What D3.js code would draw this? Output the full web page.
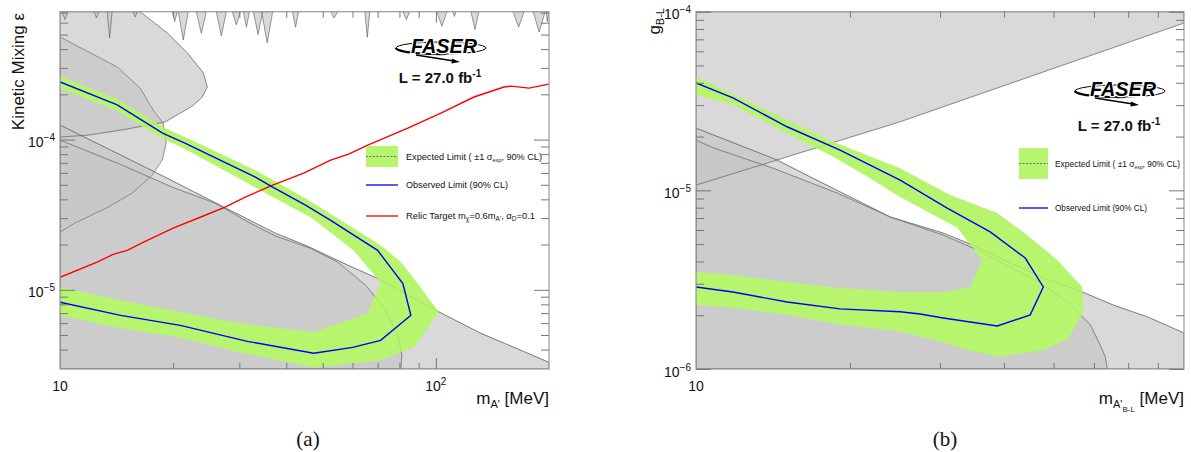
<!DOCTYPE html>
<html>
<head>
<meta charset="utf-8">
<script src="https://cdnjs.cloudflare.com/ajax/libs/d3/7.8.5/d3.min.js"></script>
<style>
  body { margin: 0; background: #fff; }
  text { font-family: "Liberation Sans", Arial, sans-serif; fill: #111; }
</style>
</head>
<body>
<svg width="1191" height="452"></svg>
<script>
// ---------- panel (a): kinetic mixing ----------
var xDomainA = [10, 200];
var yDomainA = [2.97e-6, 7.1e-4];
var xMinorA = [20, 30, 40, 50, 60, 70, 80, 90];
var xMajorA = [100];
var xLabelsA = [[10, "10", ""], [100, "10", "2"]];
var yMinorA = [4e-6, 5e-6, 6e-6, 7e-6, 8e-6, 9e-6, 2e-5, 3e-5, 4e-5, 5e-5, 6e-5, 7e-5, 8e-5, 9e-5, 2e-4, 3e-4, 4e-4, 5e-4, 6e-4, 7e-4];
var yLabelsA = [[1e-5, "\u22125"], [1e-4, "\u22124"]];

var obsA = [[10, 2.42e-4], [14.2, 1.70e-4], [18.8, 1.10e-4], [21.5, 9.48e-5], [33.1, 5.62e-5], [36.8, 4.82e-5], [45.0, 3.66e-5], [52.5, 2.90e-5], [70.0, 1.83e-5], [81.7, 1.10e-5], [85.8, 6.76e-6], [71.3, 4.61e-6], [60.1, 4.14e-6], [47.3, 3.78e-6], [31.5, 4.54e-6], [20.9, 5.80e-6], [14.5, 6.76e-6], [10, 8.26e-6]];
var expOuterA = [[10, 2.65e-4], [14.2, 1.86e-4], [18.8, 1.21e-4], [21.5, 1.04e-4], [33.1, 6.26e-5], [45.0, 4.07e-5], [60.4, 2.57e-5], [71.3, 1.98e-5], [80.7, 1.53e-5], [89.5, 1.10e-5], [101.9, 7.08e-6], [87.4, 4.14e-6], [71.3, 3.39e-6], [47.3, 3.04e-6], [30.2, 3.83e-6], [20.9, 4.82e-6], [14.5, 5.54e-6], [10, 6.76e-6]];
var expInnerA = [[10, 2.20e-4], [14.2, 1.55e-4], [18.8, 1.01e-4], [21.5, 8.65e-5], [31.5, 5.13e-5], [36.8, 4.14e-5], [46.4, 3.04e-5], [60.4, 1.83e-5], [71.3, 1.12e-5], [65.9, 6.97e-6], [47.3, 5.21e-6], [30.2, 5.98e-6], [20.9, 7.08e-6], [14.5, 8.51e-6], [10, 1.04e-5]];
var relicA = [[10, 1.21e-5], [12.55, 1.53e-5], [13.85, 1.72e-5], [15.09, 1.83e-5], [16.64, 2.07e-5], [20.0, 2.57e-5], [23.6, 3.04e-5], [27.5, 3.55e-5], [31.1, 4.14e-5], [36.8, 4.97e-5], [44.5, 5.98e-5], [52.5, 7.30e-5], [58.6, 8.01e-5], [65.9, 9.19e-5], [84.2, 1.19e-4], [103.1, 1.50e-4], [126.3, 1.92e-4], [151.8, 2.24e-4], [158.5, 2.27e-4], [177.0, 2.20e-4], [200, 2.34e-4]];

// excluded regions (a)
var beamDumpA = [[10, 1.25e-4], [17.92, 6.07e-5], [33.1, 2.78e-5], [37.44, 2.38e-5], [45.0, 1.98e-5], [58.26, 1.46e-5], [70.0, 1.19e-5], [87.4, 8.77e-6], [100, 7.30e-6], [131.8, 5.13e-6], [161.4, 4.14e-6], [200, 3.29e-6], [200, 2.97e-6], [10, 2.97e-6]];
var nucalA = [[10, 9.92e-5], [14.63, 6.76e-5], [19.89, 4.82e-5], [25.9, 3.77e-5], [31.7, 2.82e-5], [37.44, 2.28e-5], [46.4, 1.89e-5], [54.8, 1.53e-5], [65.1, 1.07e-5], [73.6, 7.30e-6], [79.2, 4.97e-6], [81.2, 3.66e-6], [80.7, 2.97e-6], [10, 2.97e-6]];
var upperA = [[10, 7.1e-4], [16.34, 7.1e-4], [19.29, 5.13e-4], [21.81, 3.78e-4], [24.06, 2.78e-4], [24.66, 2.24e-4], [23.91, 1.92e-4], [22.49, 1.67e-4], [19.05, 1.31e-4], [14.63, 1.16e-4], [11.88, 1.07e-4], [10, 1.04e-4]];
var lobeA = [[10, 4.82e-4], [14.2, 3.04e-4], [16.34, 2.20e-4], [17.7, 1.57e-4], [18.8, 1.29e-4], [19.17, 9.48e-5], [18.71, 7.30e-5], [17.59, 5.80e-5], [15.56, 4.40e-5], [13.43, 3.55e-5], [10.96, 2.78e-5], [10, 2.42e-5]];
// resonances hanging from the top: [m left, m right, eps at tip]
var spikesA = [[10.12, 10.50, 6.3e-4], [12.32, 12.70, 6.45e-4], [13.35, 13.76, 4.75e-4], [15.65, 16.05, 6.55e-4], [19.89, 20.51, 6.1e-4], [20.64, 21.94, 4.6e-4], [23.05, 24.51, 5.1e-4], [26.06, 27.71, 4.9e-4], [28.75, 30.2, 5.8e-4], [30.76, 31.92, 5.6e-4], [32.71, 34.6, 5.0e-4], [34.4, 36.8, 4.4e-4], [41.56, 43.12, 5.6e-4], [52.5, 54.8, 6.45e-4], [64.7, 66.7, 4.8e-4], [81.7, 85.2, 6.3e-4], [100.6, 107.0, 5.7e-4], [111.0, 113.1, 6.6e-4], [124.0, 130.2, 5.4e-4], [160.5, 171.7, 5.6e-4], [181.5, 195.3, 5.2e-4], [196.5, 199.5, 6.1e-4]];

// ---------- panel (b): B-L ----------
var xDomainB = [10, 90];
var yDomainB = [1e-6, 1e-4];
var xMinorB = [20, 30, 40, 50, 60, 70, 80];
var xMajorB = [];
var xLabelsB = [[10, "10", ""]];
var yMinorB = [2e-6, 3e-6, 4e-6, 5e-6, 6e-6, 7e-6, 8e-6, 9e-6, 2e-5, 3e-5, 4e-5, 5e-5, 6e-5, 7e-5, 8e-5, 9e-5];
var yLabelsB = [[1e-6, "\u22126"], [1e-5, "\u22125"], [1e-4, "\u22124"]];

var obsB = [[10, 3.99e-5], [11.81, 3.29e-5], [15.07, 2.27e-5], [19.13, 1.68e-5], [25.07, 1.14e-5], [30.99, 7.96e-6], [37.61, 5.85e-6], [44.04, 4.18e-6], [47.76, 2.88e-6], [45.03, 2.01e-6], [38.82, 1.74e-6], [30.43, 1.93e-6], [27.44, 2.03e-6], [25.07, 2.09e-6], [19.13, 2.17e-6], [15.07, 2.37e-6], [11.81, 2.70e-6], [10, 2.88e-6]];
var expOuterB = [[10, 4.31e-5], [11.81, 3.46e-5], [15.07, 2.48e-5], [18.54, 1.87e-5], [25.07, 1.33e-5], [31.41, 9.42e-6], [38.82, 7.47e-6], [43.64, 5.85e-6], [50.87, 4.08e-6], [56.92, 2.88e-6], [57.18, 2.06e-6], [53.21, 1.46e-6], [47.76, 1.28e-6], [39.35, 1.17e-6], [33.91, 1.28e-6], [29.09, 1.46e-6], [25.07, 1.62e-6], [19.13, 1.77e-6], [15.07, 2.01e-6], [11.81, 2.20e-6], [10, 2.28e-6]];
var expInnerB = [[10, 3.42e-5], [11.81, 3.01e-5], [15.07, 2.09e-5], [18.54, 1.54e-5], [21.9, 1.17e-5], [25.07, 9.18e-6], [32.42, 6.17e-6], [36.28, 4.08e-6], [34.38, 2.88e-6], [30.99, 2.70e-6], [25.07, 2.70e-6], [19.13, 2.84e-6], [15.07, 3.07e-6], [11.81, 3.36e-6], [10, 3.49e-6]];

var upperB = [[10, 1e-4], [90, 1e-4], [90, 8.64e-5], [25.07, 2.42e-5], [10, 1.07e-5]];
var beamDumpB = [[10, 2.23e-5], [14.4, 1.48e-5], [16.72, 1.19e-5], [23.97, 7.10e-6], [30.43, 5.77e-6], [35.48, 4.82e-6], [41.17, 3.93e-6], [47.76, 3.24e-6], [56.92, 2.70e-6], [65.47, 2.28e-6], [76.3, 1.96e-6], [90, 1.59e-6], [90, 1e-6], [10, 1e-6]];
var nucalB = [[10, 1.91e-5], [10.8, 1.73e-5], [14.15, 1.33e-5], [18.88, 9.66e-6], [23.97, 7.10e-6], [30.43, 5.62e-6], [35.48, 4.64e-6], [41.17, 3.72e-6], [47.12, 3.03e-6], [53.21, 2.38e-6], [59.02, 1.77e-6], [61.73, 1.36e-6], [63.14, 1.17e-6], [63.71, 1e-6], [10, 1e-6]];

var svg = d3.select("svg");
var GREEN = "#b8f56f";

function makePanel(c) {
    var x = d3.scaleLog().domain(c.xDomain).range([c.left, c.right]);
    var y = d3.scaleLog().domain(c.yDomain).range([c.bottom, c.top]);
    svg.append("clipPath").attr("id", "clip" + c.id)
        .append("rect")
        .attr("x", c.left).attr("y", c.top)
        .attr("width", c.right - c.left).attr("height", c.bottom - c.top);
    var plot = svg.append("g").attr("clip-path", "url(#clip" + c.id + ")");
    var line = d3.line().x(function (d) { return x(d[0]); }).y(function (d) { return y(d[1]); });

    // grey excluded regions (translucent so overlaps get darker)
    c.regions.forEach(function (r) {
        plot.append("path").attr("d", line(r.pts) + "Z")
            .attr("fill", "rgb(197,197,197)").attr("fill-opacity", 0.66);
    });
    (c.spikes || []).forEach(function (s) {
        var top = c.yDomain[1];
        var pts = [[s[0], top], [Math.sqrt(s[0] * s[1]), s[2]], [s[1], top]];
        plot.append("path").attr("d", line(pts) + "Z")
            .attr("fill", "rgb(197,197,197)").attr("fill-opacity", 0.66)
            .attr("stroke", "#555").attr("stroke-width", 0.6);
    });
    c.regions.forEach(function (r) {
        plot.append("path").attr("d", line(r.pts) + "Z")
            .attr("fill", "none").attr("stroke", r.stroke).attr("stroke-width", 0.8);
    });

    // expected band
    plot.append("path")
        .attr("d", line(c.expOuter.concat(c.expInner.slice().reverse())) + "Z")
        .attr("fill", GREEN);
    // faint region edges seen through the band
    c.regions.forEach(function (r) {
        plot.append("path").attr("d", line(r.pts) + "Z")
            .attr("fill", "none").attr("stroke", "#777").attr("stroke-opacity", 0.25).attr("stroke-width", 0.7);
    });

    if (c.relic) {
        plot.append("path").attr("d", line(c.relic))
            .attr("fill", "none").attr("stroke", "#ff0000").attr("stroke-width", 1.4);
    }
    plot.append("path").attr("d", line(c.obs))
        .attr("fill", "none").attr("stroke", "#0000f0").attr("stroke-width", 1.4);

    // frame
    svg.append("rect")
        .attr("x", c.left).attr("y", c.top)
        .attr("width", c.right - c.left).attr("height", c.bottom - c.top)
        .attr("fill", "none").attr("stroke", "#999").attr("stroke-width", 1.2);

    // ticks, pointing inward on all four sides
    function add(axis, tr) {
        var a = svg.append("g").attr("transform", tr).call(axis);
        a.select(".domain").remove();
        a.selectAll("line").attr("stroke", "#777");
        a.selectAll("text").remove();
    }
    add(d3.axisBottom(x).tickValues(c.xMinor).tickSize(-6), "translate(0," + c.bottom + ")");
    add(d3.axisBottom(x).tickValues(c.xMajor).tickSize(-11), "translate(0," + c.bottom + ")");
    add(d3.axisTop(x).tickValues(c.xMinor).tickSize(-6), "translate(0," + c.top + ")");
    add(d3.axisTop(x).tickValues(c.xMajor).tickSize(-11), "translate(0," + c.top + ")");
    add(d3.axisLeft(y).tickValues(c.yMinor).tickSize(-8), "translate(" + c.left + ",0)");
    add(d3.axisLeft(y).tickValues(c.yLabels.map(function (d) { return d[0]; })).tickSize(-15), "translate(" + c.left + ",0)");
    add(d3.axisRight(y).tickValues(c.yMinor).tickSize(-8), "translate(" + c.right + ",0)");
    add(d3.axisRight(y).tickValues(c.yLabels.map(function (d) { return d[0]; })).tickSize(-15), "translate(" + c.right + ",0)");

    // tick labels
    c.yLabels.forEach(function (d) {
        var t = svg.append("text").attr("x", c.left - 5).attr("y", y(d[0]) + 7.5)
            .attr("text-anchor", "end").attr("font-size", 14);
        t.append("tspan").text("10");
        t.append("tspan").attr("dy", -6).attr("font-size", 10).text(d[1]);
    });
    c.xLabels.forEach(function (d) {
        var t = svg.append("text").attr("x", x(d[0])).attr("y", 391)
            .attr("text-anchor", "middle").attr("font-size", 14);
        t.append("tspan").text(d[1]);
        if (d[2]) t.append("tspan").attr("dy", -6).attr("font-size", 10).text(d[2]);
    });
    return { x: x, y: y };
}

function logo(cx, cy) {
    var g = svg.append("g");
    g.append("ellipse").attr("cx", cx).attr("cy", cy).attr("rx", 45).attr("ry", 6)
        .attr("fill", "none").attr("stroke", "#000").attr("stroke-width", 1);
    g.append("path").attr("d", "M" + (cx - 45) + "," + cy + " A45,6 0 0,0 " + (cx + 5) + "," + (cy + 6))
        .attr("fill", "none").attr("stroke", "#000").attr("stroke-width", 2.2);
    g.append("text").attr("x", cx + 3).attr("y", cy + 5).attr("text-anchor", "middle")
        .attr("font-size", 21).attr("font-weight", "bold").attr("font-style", "italic")
        .attr("textLength", 66).attr("lengthAdjust", "spacingAndGlyphs")
        .attr("stroke", "#fff").attr("stroke-width", 2.5).attr("paint-order", "stroke")
        .style("fill", "#000").text("FASER");
    g.append("line").attr("x1", cx - 25).attr("y1", cy + 7).attr("x2", cx + 13).attr("y2", cy + 13)
        .attr("stroke", "#000").attr("stroke-width", 1.3);
    g.append("path").attr("d", "M" + (cx + 19) + "," + (cy + 14) + " L" + (cx + 11) + "," + (cy + 10.5) + " L" + (cx + 10.5) + "," + (cy + 15.5) + "Z")
        .attr("fill", "#000");
}

function lumi(cx, base) {
    var t = svg.append("text").attr("x", cx).attr("y", base).attr("text-anchor", "middle")
        .attr("font-size", 15).attr("font-weight", "bold");
    t.append("tspan").text("L = 27.0 fb");
    t.append("tspan").attr("dy", -6).attr("font-size", 10).text("-1");
}

function bandKey(x0, y0, w, h, tx, fs, tl) {
    svg.append("rect").attr("x", x0).attr("y", y0).attr("width", w).attr("height", h).attr("fill", GREEN);
    svg.append("line").attr("x1", x0).attr("x2", x0 + w).attr("y1", y0 + h / 2).attr("y2", y0 + h / 2)
        .attr("stroke", "#555").attr("stroke-width", 0.8).attr("stroke-dasharray", "2,1.5");
    var t = svg.append("text").attr("x", tx).attr("y", y0 + h / 2 + 3).attr("font-size", fs)
        .attr("textLength", tl).attr("lengthAdjust", "spacingAndGlyphs");
    t.append("tspan").text("Expected Limit ( \u00b11 \u03c3");
    t.append("tspan").attr("dy", 2).attr("font-size", fs * 0.6).text("exp");
    t.append("tspan").attr("dy", -2).text(", 90% CL)");
}

function lineKey(x0, yc, w, color, tx, fs, tl, parts) {
    svg.append("line").attr("x1", x0).attr("x2", x0 + w).attr("y1", yc).attr("y2", yc)
        .attr("stroke", color).attr("stroke-width", 1.3);
    var t = svg.append("text").attr("x", tx).attr("y", yc + 3).attr("font-size", fs)
        .attr("textLength", tl).attr("lengthAdjust", "spacingAndGlyphs");
    parts.forEach(function (p) {
        var s = t.append("tspan").text(p[0]);
        if (p[1]) s.attr("dy", p[1]);
        if (p[2]) s.attr("font-size", p[2]);
    });
}

// ----- draw panel (a)
makePanel({
    id: "A", left: 60, right: 549, top: 11.7, bottom: 369,
    xDomain: xDomainA, yDomain: yDomainA,
    xMinor: xMinorA, xMajor: xMajorA, xLabels: xLabelsA,
    yMinor: yMinorA, yLabels: yLabelsA,
    regions: [
        { pts: beamDumpA, stroke: "#666" },
        { pts: nucalA, stroke: "#777" },
        { pts: upperA, stroke: "#777" },
        { pts: lobeA, stroke: "#888" }
    ],
    spikes: spikesA,
    expOuter: expOuterA, expInner: expInnerA, obs: obsA, relic: relicA
});

svg.append("text").attr("transform", "translate(24,13) rotate(-90)")
    .attr("text-anchor", "end").attr("font-size", 17).text("Kinetic Mixing \u03b5");
var xtA = svg.append("text").attr("x", 549).attr("y", 404).attr("text-anchor", "end").attr("font-size", 17);
xtA.append("tspan").text("m");
xtA.append("tspan").attr("dy", 4).attr("font-size", 11).text("A'");
xtA.append("tspan").attr("dy", -4).text(" [MeV]");

logo(441, 48);
lumi(440, 83);
bandKey(366, 146, 32, 21, 406, 9.5, 136);
lineKey(366, 185, 32, "#0000f0", 406, 9.5, 102, [["Observed Limit (90% CL)"]]);
lineKey(366, 216, 32, "#ff0000", 406, 9.5, 129, [
    ["Relic Target m"], ["\u03c7", 2, 6.5], ["=0.6m", -2], ["A'", 2, 6.5], [", \u03b1", -2], ["D", 2, 6.5], ["=0.1", -2]
]);

// ----- draw panel (b)
makePanel({
    id: "B", left: 696, right: 1184, top: 11.7, bottom: 369,
    xDomain: xDomainB, yDomain: yDomainB,
    xMinor: xMinorB, xMajor: xMajorB, xLabels: xLabelsB,
    yMinor: yMinorB, yLabels: yLabelsB,
    regions: [
        { pts: upperB, stroke: "#777" },
        { pts: beamDumpB, stroke: "#666" },
        { pts: nucalB, stroke: "#777" }
    ],
    expOuter: expOuterB, expInner: expInnerB, obs: obsB
});

var ytB = svg.append("text").attr("transform", "translate(660,8) rotate(-90)")
    .attr("text-anchor", "end").attr("font-size", 17);
ytB.append("tspan").text("g");
ytB.append("tspan").attr("dy", 4).attr("font-size", 11).text("B-L");
var xtB = svg.append("text").attr("x", 1184).attr("y", 404).attr("text-anchor", "end").attr("font-size", 17);
xtB.append("tspan").text("m");
xtB.append("tspan").attr("dy", 4).attr("font-size", 11).text("A'");
xtB.append("tspan").attr("dy", 4).attr("font-size", 8).text("B-L");
xtB.append("tspan").attr("dy", -8).text(" [MeV]");

logo(1120, 91);
lumi(1119, 131);
bandKey(1019, 148, 29, 31, 1055, 8.5, 125);
lineKey(1019, 208, 29, "#0000f0", 1055, 8.5, 92, [["Observed Limit (90% CL)"]]);

// panel captions
svg.append("text").attr("x", 308).attr("y", 446).attr("text-anchor", "middle")
    .style("font-family", "'Liberation Serif', 'DejaVu Serif', serif").attr("font-size", 21).text("(a)");
svg.append("text").attr("x", 945).attr("y", 446).attr("text-anchor", "middle")
    .style("font-family", "'Liberation Serif', 'DejaVu Serif', serif").attr("font-size", 21).text("(b)");
</script>
</body>
</html>
